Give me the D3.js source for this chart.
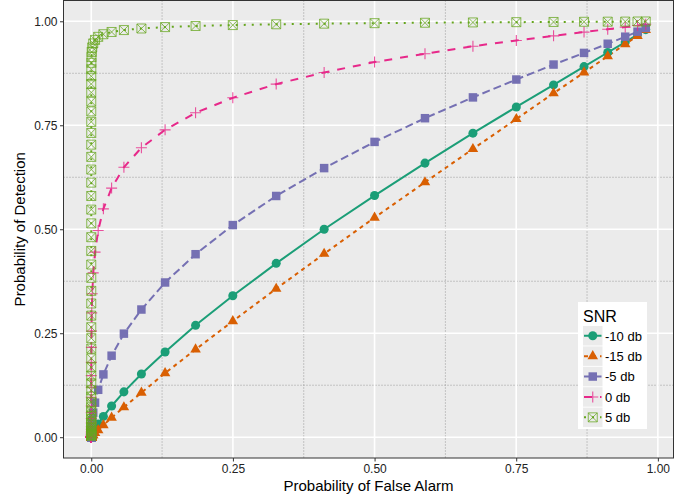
<!DOCTYPE html>
<html>
<head>
<meta charset="utf-8">
<script src="https://cdn.jsdelivr.net/npm/d3@7"></script>
<style>
  body { margin: 0; background: #fff; }
  svg { display: block; font-family: "Liberation Sans", Arial, sans-serif; }
</style>
</head>
<body>
<svg id="chart" width="693" height="499"></svg>
<script>
// Probability of false alarm at each detector threshold (shared by every SNR curve)
const pfa = [
  .9786,.9641,.9424,.9115,.8697,.8159,.7502,.6736,.5890,.5000,
  .4110,.3264,.2498,.1841,.1303,.0885,.0576,.0359,.0214,.0122,
  .0067,.0035,.0017,.0008,.0004,.0002,.0001,0,0,0,
  0,0,0,0,0,0,0,0,0,0,
  0,0,0,0,0,0,0,0,0,0,
  0,0,0,0,0,0,0,0,0,0,
  0,0,0,0,0,0,0,0,0,0,
  0,0,0,0
];

// Probability of detection per SNR, same threshold order as pfa
const pdMinus10 = [
  .980,.968,.950,.925,.891,.847,.794,.731,.659,.581,
  .500,.418,.340,.269,.205,.152,.109,.075,.050,.032,
  .020,.012,.007,.004,.002,.001,.0005,.0002,.0001,0,
  0,0,0,0,0,0,0,0,0,0,
  0,0,0,0,0,0,0,0,0,0,
  0,0,0,0,0,0,0,0,0,0,
  0,0,0,0,0,0,0,0,0,0,
  0,0,0,0
];
const pdMinus15 = [
  .979,.965,.945,.916,.877,.827,.765,.693,.613,.528,
  .441,.357,.279,.211,.154,.107,.072,.047,.029,.017,
  .010,.005,.003,.001,.001,.0003,.0001,0,0,0,
  0,0,0,0,0,0,0,0,0,0,
  0,0,0,0,0,0,0,0,0,0,
  0,0,0,0,0,0,0,0,0,0,
  0,0,0,0,0,0,0,0,0,0,
  0,0,0,0
];
const pdMinus5 = [
  .984,.975,.963,.946,.924,.896,.860,.817,.767,.710,
  .647,.580,.510,.440,.372,.307,.249,.196,.151,.114,
  .083,.059,.041,.028,.018,.012,.007,.004,.003,.0015,
  .0008,.0005,.0002,.0001,0,0,0,0,0,0,
  0,0,0,0,0,0,0,0,0,0,
  0,0,0,0,0,0,0,0,0,0,
  0,0,0,0,0,0,0,0,0,0,
  0,0,0,0
];
const pd0 = [
  .993,.990,.986,.981,.974,.965,.954,.940,.922,.902,
  .877,.849,.816,.780,.739,.696,.649,.599,.549,.497,
  .445,.395,.345,.299,.255,.216,.180,.148,.120,.096,
  .075,.059,.045,.034,.025,.019,.013,.010,.007,.005,
  .003,.002,.0014,.0009,.0006,.0004,.0002,.0001,0,0,
  0,0,0,0,0,0,0,0,0,0,
  0,0,0,0,0,0,0,0,0,0,
  0,0,0,0
];
const pd5 = [
  .9996,.9995,.9993,.9991,.9988,.9984,.9979,.9973,.9965,.9955,
  .9943,.9928,.9909,.9887,.9860,.9827,.9789,.9743,.9689,.9626,
  .9553,.9468,.9372,.9263,.9140,.9002,.8848,.8678,.8492,.8289,
  .8070,.7834,.7582,.7315,.7034,.6740,.6435,.6121,.5799,.5472,
  .5141,.4809,.4479,.4152,.3832,.3519,.3215,.2923,.2644,.2380,
  .2130,.1896,.1679,.1479,.1295,.1128,.0977,.0841,.0720,.0613,
  .0518,.0436,.0364,.0303,.0250,.0205,.0167,.0136,.0109,.0088,
  .0070,.0055,.0043,.0034
];

const seriesNames = ["-10 db", "-15 db", "-5 db", "0 db", "5 db"];
const seriesValues = [pdMinus10, pdMinus15, pdMinus5, pd0, pd5];

const majorTicks = [0, 0.25, 0.5, 0.75, 1];
const minorTicks = [0.125, 0.375, 0.625, 0.875];
const legendTitle = "SNR";
const xTitle = "Probability of False Alarm";
const yTitle = "Probability of Detection";

// Styling per series (Dark2 palette, ggplot-like line types and shapes)
const colors = ["#1B9E77", "#D95F02", "#7570B3", "#E7298A", "#66A61E"];
const dashes = [null, "4,4", "8,4", "8,8", "2,6"];
const shapes = ["circle", "triangle", "square", "plus", "squarecross"];

const svg = d3.select("#chart");
const panel = { left: 63.5, right: 673.5, top: 0.5, bottom: 458 };

const x = d3.scaleLinear().domain([-0.049, 1.0276]).range([panel.left, panel.right]);
const y = d3.scaleLinear().domain([-0.05, 1.05]).range([panel.bottom, panel.top]);

// panel background
svg.append("rect")
  .attr("x", panel.left).attr("y", panel.top)
  .attr("width", panel.right - panel.left).attr("height", panel.bottom - panel.top)
  .attr("fill", "#EBEBEB");

const grid = svg.append("g");
// minor grid: dotted grey
grid.selectAll(".vminor").data(minorTicks).join("line")
  .attr("x1", d => x(d)).attr("x2", d => x(d))
  .attr("y1", panel.top).attr("y2", panel.bottom)
  .attr("stroke", "#9a9a9a").attr("stroke-width", 1).attr("stroke-dasharray", "1,2");
grid.selectAll(".hminor").data(minorTicks).join("line")
  .attr("y1", d => y(d)).attr("y2", d => y(d))
  .attr("x1", panel.left).attr("x2", panel.right)
  .attr("stroke", "#9a9a9a").attr("stroke-width", 1).attr("stroke-dasharray", "1,2");
// major grid: white
grid.selectAll(".vmajor").data(majorTicks).join("line")
  .attr("x1", d => x(d)).attr("x2", d => x(d))
  .attr("y1", panel.top).attr("y2", panel.bottom)
  .attr("stroke", "#fff").attr("stroke-width", 1.6);
grid.selectAll(".hmajor").data(majorTicks).join("line")
  .attr("y1", d => y(d)).attr("y2", d => y(d))
  .attr("x1", panel.left).attr("x2", panel.right)
  .attr("stroke", "#fff").attr("stroke-width", 1.6);

// marker drawing
function drawMarker(g, shape, color) {
  if (shape === "circle") {
    g.append("path").attr("d", d3.symbol(d3.symbolCircle, 64)()).attr("fill", color);
  } else if (shape === "triangle") {
    g.append("path").attr("d", d3.symbol(d3.symbolTriangle, 48)()).attr("fill", color);
  } else if (shape === "square") {
    g.append("path").attr("d", d3.symbol(d3.symbolSquare, 72)()).attr("fill", color);
  } else if (shape === "plus") {
    const h = 5.5;
    g.append("path").attr("d", `M${-h},0H${h}M0,${-h}V${h}`)
      .attr("stroke", color).attr("stroke-width", 1.1).attr("fill", "none").attr("opacity", 0.8);
  } else if (shape === "squarecross") {
    const h = 4.5;
    g.append("path").attr("d", `M${-h},${-h}H${h}V${h}H${-h}ZM${-h},${-h}L${h},${h}M${h},${-h}L${-h},${h}`)
      .attr("stroke", color).attr("stroke-width", 1).attr("fill", "none").attr("opacity", 0.75);
  }
}

const line = d3.line().x(d => x(d[0])).y(d => y(d[1]));
const seriesData = seriesValues.map(vals => d3.zip(pfa, vals));

const plot = svg.append("g");
// lines first
seriesData.forEach((pts, i) => {
  plot.append("path").datum(pts)
    .attr("d", line)
    .attr("fill", "none")
    .attr("stroke", colors[i])
    .attr("stroke-width", 2)
    .attr("stroke-dasharray", dashes[i])
    .attr("stroke-linecap", "butt");
});
// then points
seriesData.forEach((pts, i) => {
  plot.append("g").selectAll("g").data(pts).join("g")
    .attr("transform", d => `translate(${x(d[0])},${y(d[1])})`)
    .each(function () { drawMarker(d3.select(this), shapes[i], colors[i]); });
});

// panel border
svg.append("rect")
  .attr("x", panel.left).attr("y", panel.top)
  .attr("width", panel.right - panel.left).attr("height", panel.bottom - panel.top)
  .attr("fill", "none").attr("stroke", "#333").attr("stroke-width", 1);

// axes
const fmt = d3.format(".2f");
const xAxis = svg.append("g").attr("transform", `translate(0,${panel.bottom})`)
  .call(d3.axisBottom(x).tickValues(majorTicks).tickFormat(fmt).tickSize(3.5).tickPadding(2.5));
const yAxis = svg.append("g").attr("transform", `translate(${panel.left},0)`)
  .call(d3.axisLeft(y).tickValues(majorTicks).tickFormat(fmt).tickSize(3.5).tickPadding(2.5));
[xAxis, yAxis].forEach(a => {
  a.select(".domain").remove();
  a.selectAll(".tick line").attr("stroke", "#333");
  a.selectAll(".tick text").attr("fill", "#222").style("font-size", "12px")
    .style("font-family", "'Liberation Sans', Arial, sans-serif");
});

svg.append("text")
  .attr("x", (panel.left + panel.right) / 2).attr("y", 491)
  .attr("text-anchor", "middle").style("font-size", "15px").attr("fill", "#000")
  .text(xTitle);
svg.append("text")
  .attr("transform", `translate(25,${(panel.top + panel.bottom) / 2}) rotate(-90)`)
  .attr("text-anchor", "middle").style("font-size", "15px").attr("fill", "#000")
  .text(yTitle);

// legend
const lg = svg.append("g").attr("transform", "translate(578,302)");
lg.append("rect").attr("width", 69).attr("height", 127).attr("fill", "#fff");
lg.append("text").attr("x", 5).attr("y", 20).style("font-size", "16px").attr("fill", "#000").text(legendTitle);
seriesNames.forEach((name, i) => {
  const ky = 24 + i * 20.4;
  const k = lg.append("g").attr("transform", `translate(5,${ky})`);
  k.append("rect").attr("width", 19.5).attr("height", 19.5).attr("fill", "#EBEBEB");
  k.append("line").attr("x1", 1).attr("x2", 18.5).attr("y1", 9.75).attr("y2", 9.75)
    .attr("stroke", colors[i]).attr("stroke-width", 2).attr("stroke-dasharray", dashes[i]);
  const m = k.append("g").attr("transform", "translate(9.75,9.75)");
  drawMarker(m, shapes[i], colors[i]);
  lg.append("text").attr("x", 27).attr("y", ky + 14.5).style("font-size", "13px").attr("fill", "#000").text(name);
});
</script>
</body>
</html>
